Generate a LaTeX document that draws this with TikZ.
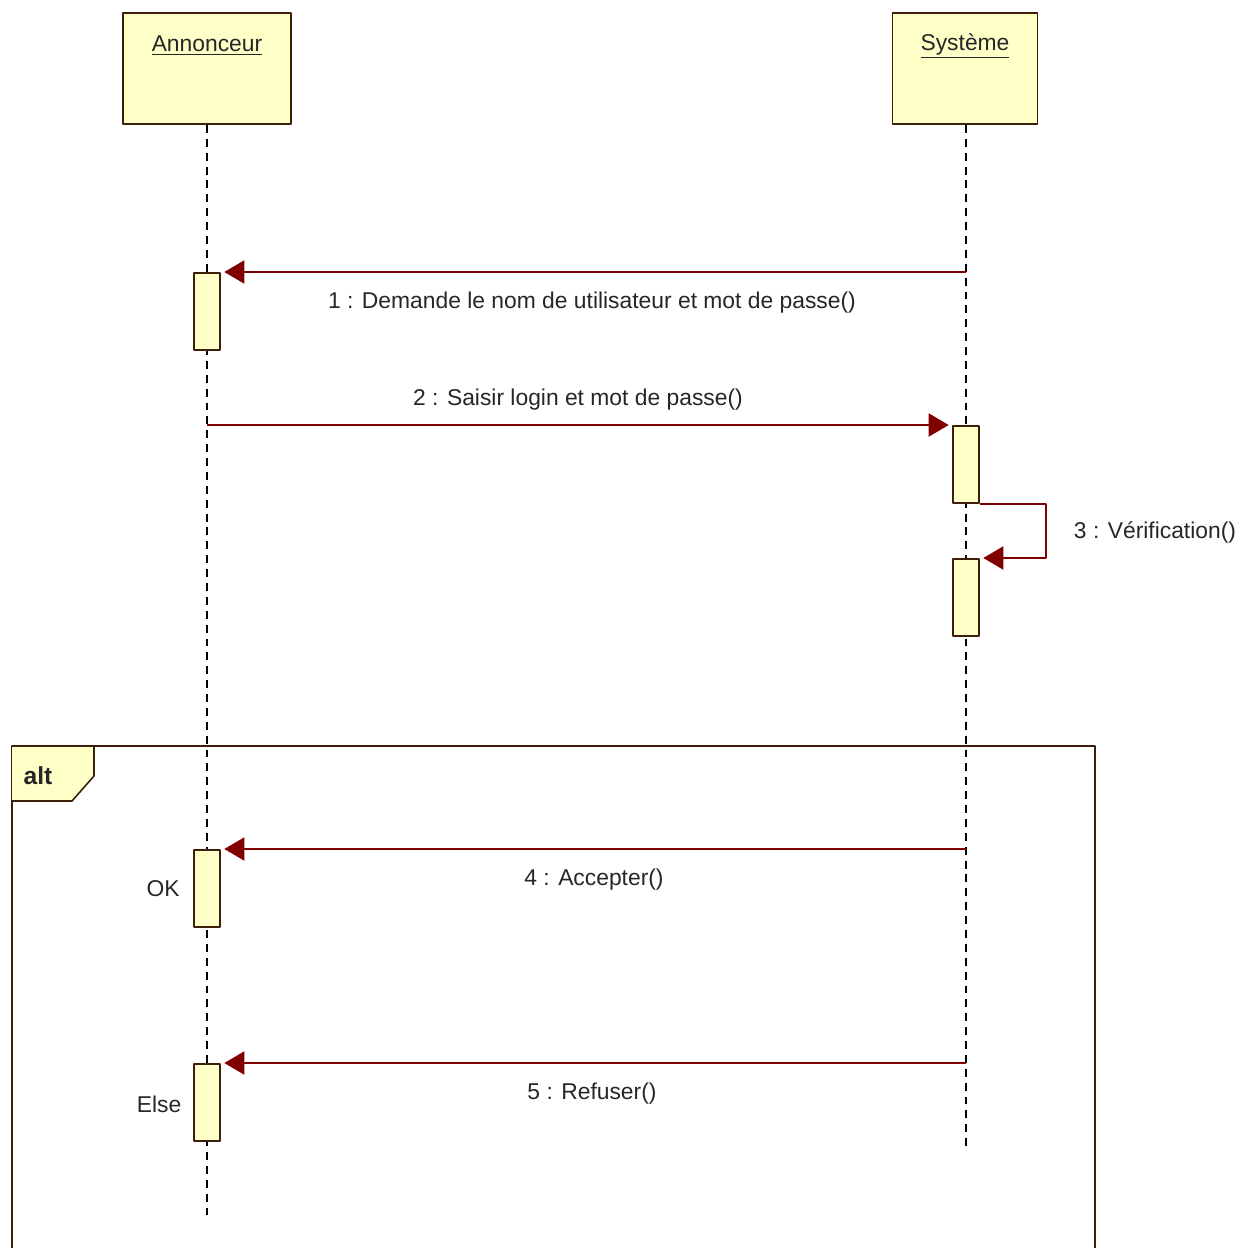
\documentclass[tikz,border=0pt]{standalone}
\usepackage{fontspec}
\setmainfont{Liberation Sans}
\usetikzlibrary{arrows.meta}
\definecolor{jaune}{RGB}{255,255,200}
\definecolor{brun}{RGB}{60,30,10}
\definecolor{rouge}{RGB}{128,0,0}
\tikzset{
	acteur/.style = {draw = brun, fill = jaune, line width = 1.1pt, minimum width = 3.36cm, minimum height = 2.22cm, inner sep = 0pt},
	activ/.style = {draw = brun, fill = jaune, line width = 0.9pt, minimum width = 0.52cm, minimum height = 1.54cm, anchor = north, inner sep = 0pt},
	vie/.style = {line width = 0.8pt, dash pattern = on 4.5pt off 3.4pt},
	msg/.style = {draw = rouge, line width = 1.1pt, -{Triangle[length = 0.4cm, width = 0.46cm]}, shorten > = 2pt},
	txt/.style = {font = \fontsize{13}{15}\selectfont, inner sep = 0pt, text = black!85}
}
\begin{document}
\begin{tikzpicture}[x = 0.02cm, y = -0.02cm, line join = round]
			\useasboundingbox (0,0) rectangle (1247,1248);
			% cadre alt
			\draw[brun, line width = 0.9pt] (12,746) rectangle (1095,1275);
			\draw[brun, line width = 0.9pt, fill = jaune] (12,746) -- (94,746) -- (94,776) -- (72,801) -- (12,801);
			\node[txt, font = \fontsize{14}{16}\selectfont\bfseries] (alt) at (38,776) {alt};
			% acteurs
			\node[acteur] (ann) at (207,68.5) {};
			\node[acteur, minimum width = 2.9cm] (sys) at (965,68.5) {};
			\node[txt] (annT) at (207,46) {\underline{Annonceur}};
			\node[txt] (sysT) at (965,46) {\underline{Système}};
			% lignes de vie
			\coordinate (annFin) at (207,1215);
			\coordinate (sysFin) at (966,1150);
			\draw[vie] (ann.south) -- (annFin);
			\draw[vie] (sys.south -| sysFin) -- (sysFin);
			% activations
			\foreach \n/\y in {a1/272, a4/849, a5/1063}{
				\node[activ] (\n) at (207,\y) {};
			}
			\foreach \n/\y in {s2/425, s3/558}{
				\node[activ] (\n) at (966,\y) {};
			}
			% messages
			\coordinate (m1) at (966,272);
			\coordinate (m2) at (207,425);
			\coordinate (m4) at (966,849);
			\coordinate (m5) at (966,1063);
			\draw[msg] (m1) -- (a1.north east);
			\draw[msg] (m2) -- (s2.north west);
			\draw[msg] (s2.south east) -- ++(66,0) |- (s3.north east);
			\draw[msg] (m4) -- (a4.north east);
			\draw[msg] (m5) -- (a5.north east);
			\node[txt] (l1) at (592,303) {1 : Demande le nom de utilisateur et mot de passe()};
			\node[txt] (l2) at (578,400) {2 : Saisir login et mot de passe()};
			\node[txt] (l3) at (1155,532) {3 : Vérification()};
			\node[txt] (l4) at (594,880) {4 : Accepter()};
			\node[txt] (l5) at (592,1094) {5 : Refuser()};
			\node[txt] (ok) at (163,889) {OK};
			\node[txt] (else) at (159,1104) {Else};
		\end{tikzpicture}
\end{document}
